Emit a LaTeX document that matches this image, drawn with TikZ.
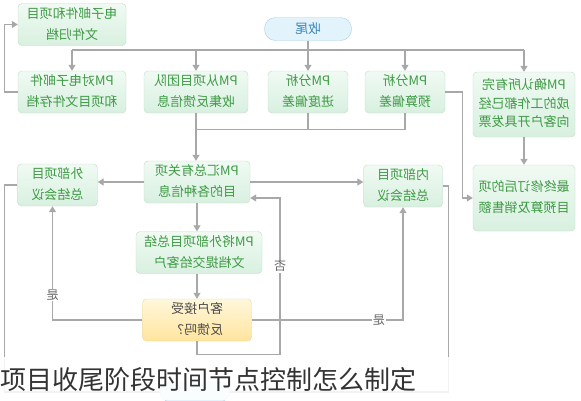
\documentclass[tikz,border=0pt]{standalone}
\usepackage{fontspec}
\setmainfont{Noto Sans CJK SC}
\usepackage{graphicx}
\usepackage{xcolor}
\definecolor{cLine}{HTML}{A8A8A8}
\definecolor{cText}{HTML}{3F9A45}
\definecolor{cBoxTop}{HTML}{F0FAF3}
\definecolor{cBoxBot}{HTML}{D8F0E0}
\definecolor{cBoxEdge}{HTML}{C4DCCA}
\definecolor{cAskTop}{HTML}{FFF7DC}
\definecolor{cAskBot}{HTML}{FFE49C}
\definecolor{cAskEdge}{HTML}{E8D8AC}
\definecolor{cEndFill}{HTML}{E3F3FC}
\definecolor{cEndEdge}{HTML}{AAD0E6}
\definecolor{cEndText}{HTML}{3C86B8}
\definecolor{cCaption}{HTML}{333333}
\usepackage{tikz}
\usetikzlibrary{arrows.meta}
% mirrored multi-line text, as in the reference
\newcommand{\flip}[1]{\reflectbox{\begin{tabular}{@{}c@{}}#1\end{tabular}}}
\tikzset{
  node-box/.style={draw=cBoxEdge,rounded corners=4pt,top color=cBoxTop,
    bottom color=cBoxBot,text=cText,font=\fontsize{13}{21}\selectfont,inner sep=0pt},
  node-ask/.style={node-box,draw=cAskEdge,top color=cAskTop,bottom color=cAskBot,
    text=black!70},
  node-end/.style={draw=cEndEdge,rounded corners=11pt,fill=cEndFill,
    text=cEndText,font=\fontsize{13}{16}\selectfont,inner sep=0pt},
  arrow/.style={-{Triangle[length=6pt,width=7pt]},draw=cLine,line width=1.2pt},
  link/.style={draw=cLine,line width=1.2pt},
  tag/.style={fill=white,text=black!60,font=\fontsize{12}{14}\selectfont,inner sep=1pt},
  caption/.style={text=cCaption,font=\fontsize{26}{30}\selectfont,inner sep=0pt},
}

\begin{document}
\begin{tikzpicture}[x=1pt,y=-1pt]
  \useasboundingbox (0,0) rectangle (581,400);
  \clip (0,0) rectangle (581,400);
  \fill[white] (0,0) rectangle (581,400);

  \node[node-box,minimum width=108pt,minimum height=41pt] (archive) at (72,24.5) {\flip{电子邮件和项目\\文件归档}};
  \node[node-end,minimum width=87pt,minimum height=23pt] (close) at (308,29) {\reflectbox{收尾}};
  \node[node-box,minimum width=108pt,minimum height=40pt] (store) at (72,92) {\flip{PM对电子邮件\\和项目文件存档}};
  \node[node-box,minimum width=104pt,minimum height=40pt] (collect) at (196,92) {\flip{PM从项目团队\\收集反馈信息}};
  \node[node-box,minimum width=80pt,minimum height=40pt] (sched) at (308,92) {\flip{PM分析\\进度偏差}};
  \node[node-box,minimum width=80pt,minimum height=40pt] (budget) at (405,92) {\flip{PM分析\\预算偏差}};
  \node[node-box,minimum width=102pt,minimum height=65pt,font=\fontsize{13}{18.5}\selectfont] (invoice) at (524,104.5) {\flip{PM确认所有完\\成的工作都已经\\向客户开具发票}};
  \node[node-box,minimum width=102pt,minimum height=66pt] (final) at (524,198) {\flip{最终修订后的项\\目预算及销售额}};
  \node[node-box,minimum width=106pt,minimum height=41pt] (gather) at (197,182) {\flip{PM汇总有关项\\目的各种信息}};
  \node[node-box,minimum width=80pt,minimum height=42pt] (extmeet) at (57.5,185) {\flip{外部项目\\总结会议}};
  \node[node-box,minimum width=79pt,minimum height=41pt] (intmeet) at (403,186) {\flip{内部项目\\总结会议}};
  \node[node-box,minimum width=126pt,minimum height=41pt] (submit) at (199,252.5) {\flip{PM将外部项目总结\\文档提交给客户}};
  \node[node-ask,minimum width=109pt,minimum height=40pt] (accept) at (197,320) {\flip{客户接受\\反馈吗？}};
  \node[node-end,minimum width=70pt,minimum height=20pt] (done) at (195,392) {};

  % top bus
  \coordinate (busL) at (72,50);
  \coordinate (busR) at (524,50);
  \draw[link] (close) -- (close |- busL);
  \draw[link] (busL) -- (busR);
  \foreach \n in {store,collect,sched,budget,invoice}
    \draw[arrow] (\n.north |- busL) -- (\n.north);

  \draw[arrow] (store.west) -- ++(-13,0) |- (archive.west);
  \draw[arrow] (budget.east) -- ++(17,0) |- (final.west);
  \draw[arrow] (invoice) -- (final);

  % into the summary
  \draw[link] (budget.south) -- ++(0,16) coordinate (join) -- (join -| collect.south);
  \draw[link] (sched.south) -- (sched.south |- join);
  \draw[arrow] (collect.south) -- (collect.south |- gather.north);
  \draw[arrow] (gather.west) -- (gather.west -| extmeet.east);
  \draw[arrow] (gather.east) -- (gather.east -| intmeet.west);
  \draw[arrow] (gather.south) -- (gather.south |- submit.north);
  \draw[arrow] (submit.south -| accept) -- (accept.north);

  % decision
  \draw[arrow] (accept.west) -| node[tag,pos=0.61] {\reflectbox{是}} ([xshift=-5pt]extmeet.south);
  \draw[arrow] (accept.east) -| node[tag,pos=0.42] {\reflectbox{是}} (intmeet.south);
  \draw[arrow] (accept.south) -- ++(0,13) -- ++(83,0) |- node[tag,pos=0.28] {\reflectbox{否}} ([yshift=-16pt]gather.east);

  % to the end
  \draw[link] (extmeet.west) -- ++(-13,0) |- (done.west);
  \draw[link] (intmeet.east) -- ++(6,0) |- (done.east);

  % caption band
  \fill[white,opacity=0.85] (0,357) rectangle (452,400);
  \node[caption,anchor=base west] (title) at (0,389) {项目收尾阶段时间节点控制怎么制定};
\end{tikzpicture}
\end{document}
